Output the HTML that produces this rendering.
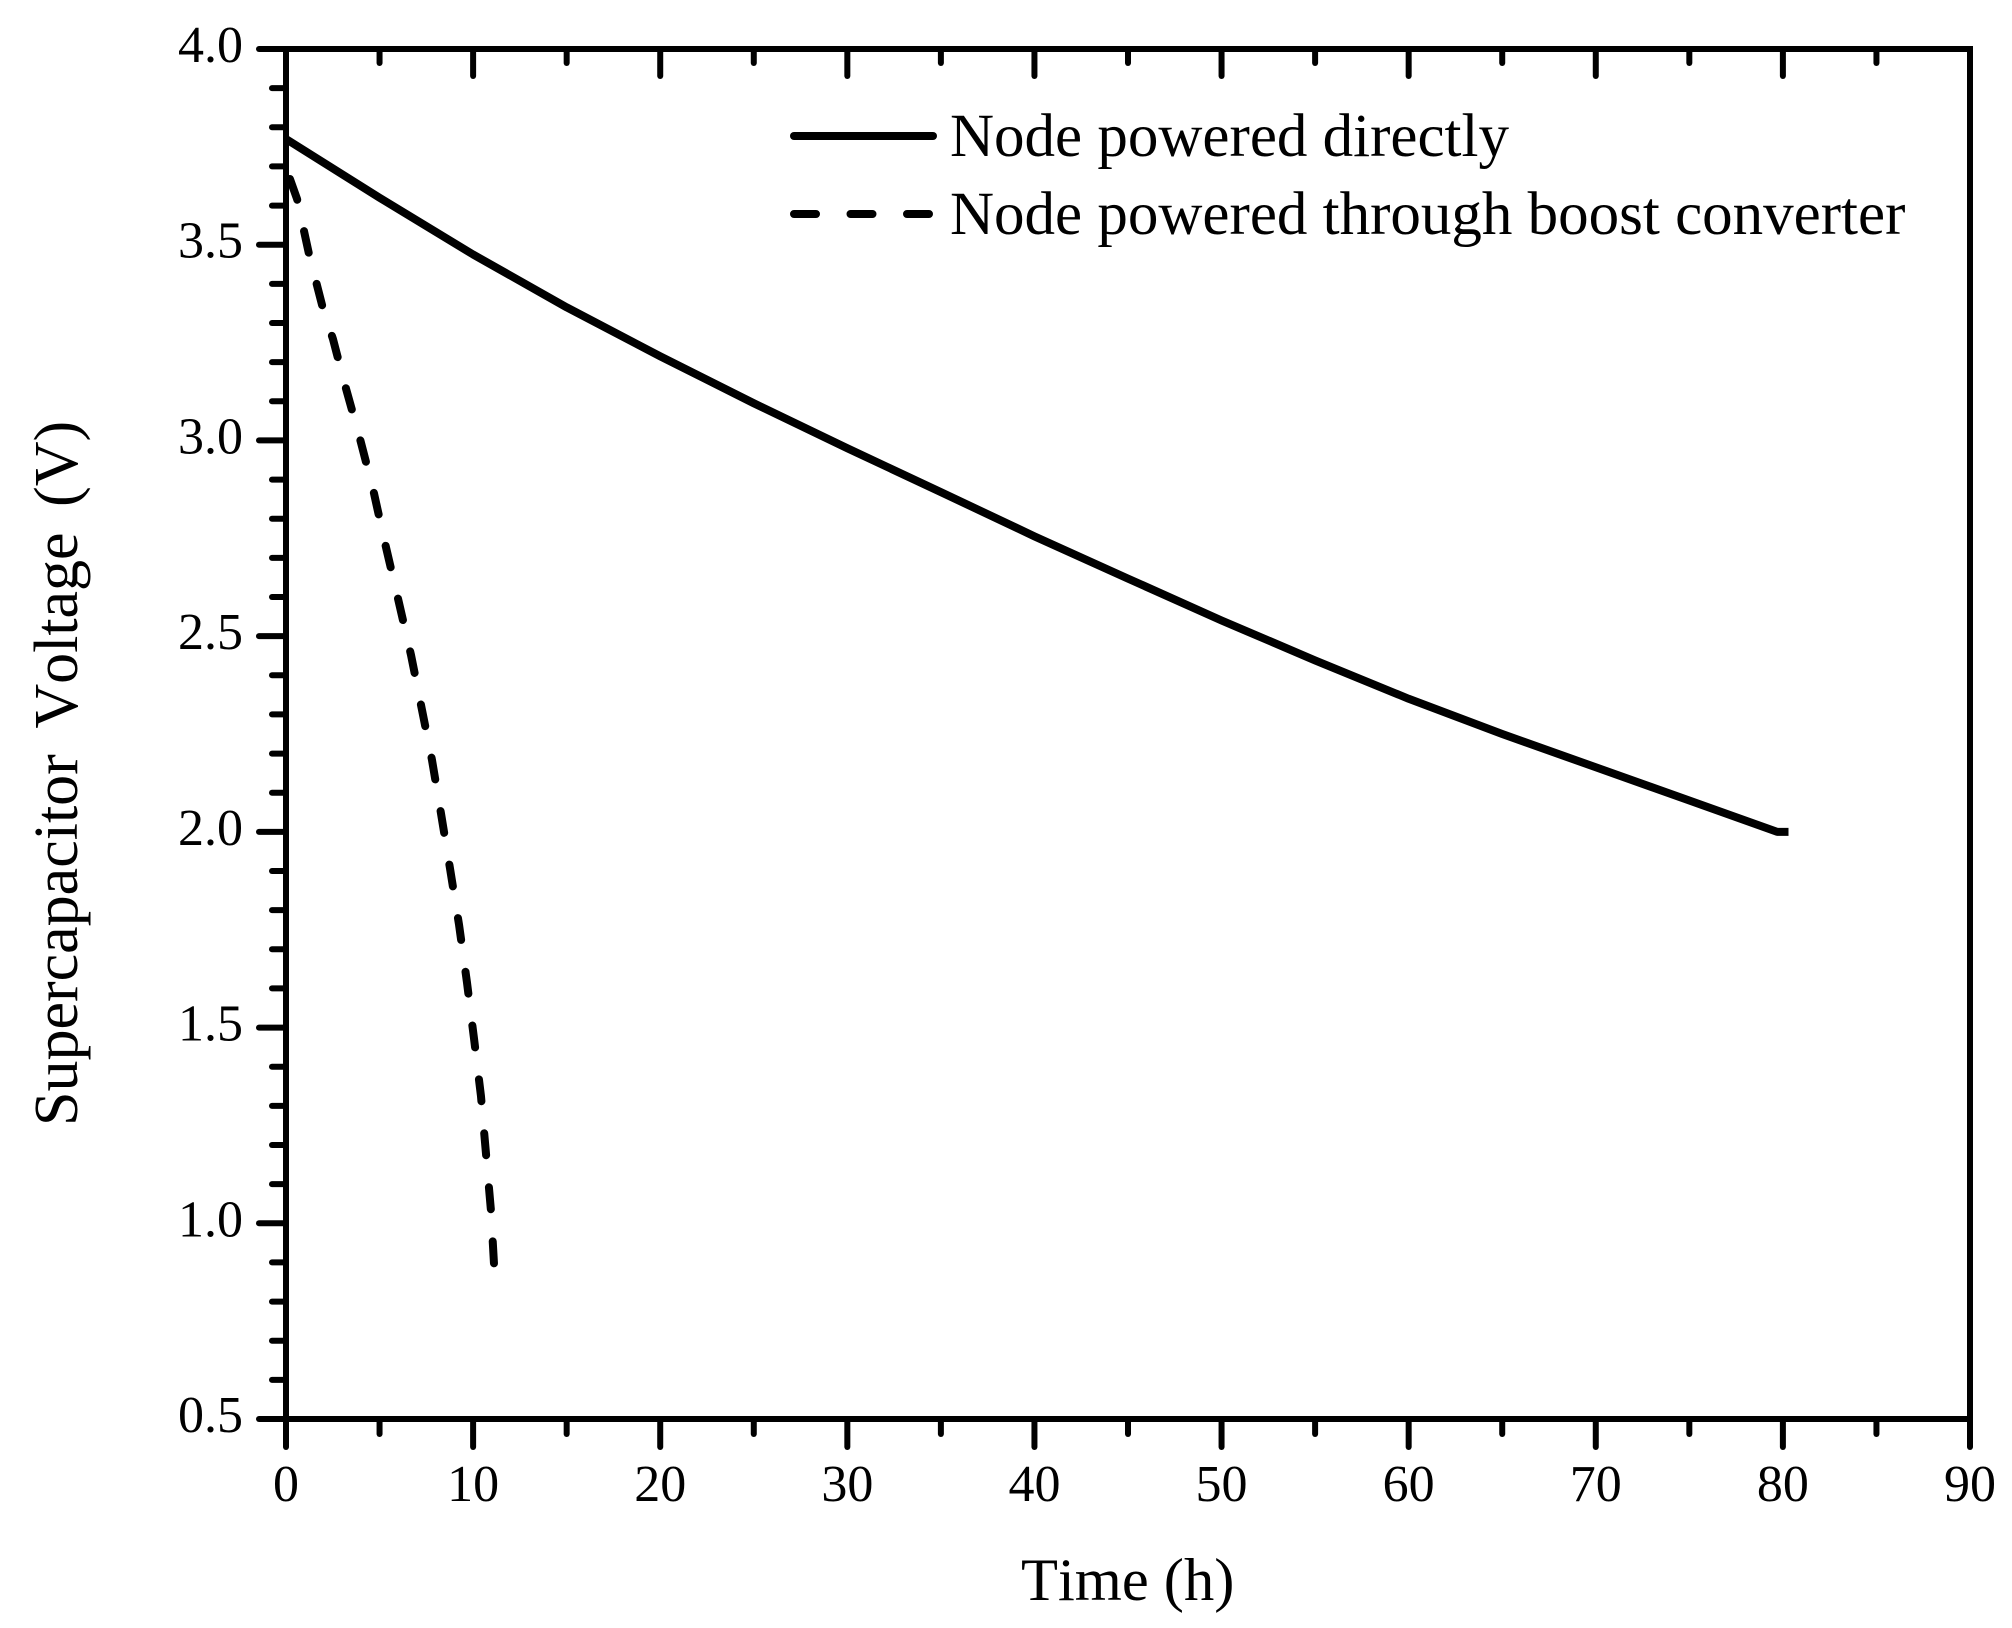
<!DOCTYPE html>
<html lang="en">
<head>
<meta charset="utf-8">
<title>Supercapacitor Voltage vs Time</title>
<style>
  html, body { margin: 0; padding: 0; background: #fff; }
  svg { display: block; }
  text { font-family: "Liberation Serif", serif; fill: #000; font-kerning: none; }
</style>
</head>
<body>
<svg id="chart" xmlns="http://www.w3.org/2000/svg" width="2012" height="1628" viewBox="0 0 2012 1628">
  <rect x="0" y="0" width="2012" height="1628" fill="#fff"/>
  <g id="axes"></g>
  <g id="series"></g>
  <text x="1021" y="1600" font-size="60.5">Time (h)</text>
  <text transform="translate(77,1126) rotate(-90)" font-size="62" word-spacing="10">Supercapacitor Voltage (V)</text>
  <g>
    <line x1="794" y1="136" x2="933" y2="136" stroke="#000" stroke-width="8" stroke-linecap="round"/>
    <text x="950" y="156" font-size="61">Node powered directly</text>
    <line x1="794" y1="214" x2="932" y2="214" stroke="#000" stroke-width="8" stroke-linecap="round" stroke-dasharray="22 34.5"/>
    <text x="950" y="234" font-size="61">Node powered through boost converter</text>
  </g>
</svg>
<script>
var xTickValues = [0, 10, 20, 30, 40, 50, 60, 70, 80, 90];
var xTickLabels = ['0', '10', '20', '30', '40', '50', '60', '70', '80', '90'];
var xMinorValues = [5, 15, 25, 35, 45, 55, 65, 75, 85];
var yTickValues = [0.5, 1.0, 1.5, 2.0, 2.5, 3.0, 3.5, 4.0];
var yTickLabels = ['0.5', '1.0', '1.5', '2.0', '2.5', '3.0', '3.5', '4.0'];
var yMinorValues = [0.6, 0.7, 0.8, 0.9, 1.1, 1.2, 1.3, 1.4, 1.6, 1.7, 1.8, 1.9, 2.1, 2.2, 2.3, 2.4, 2.6, 2.7, 2.8, 2.9, 3.1, 3.2, 3.3, 3.4, 3.6, 3.7, 3.8, 3.9];

var directTime = [0, 5, 10, 15, 20, 25, 30, 35, 40, 45, 50, 55, 60, 65, 70, 75, 79.7, 80.3];
var directVoltage = [3.77, 3.62, 3.475, 3.34, 3.215, 3.095, 2.98, 2.868, 2.755, 2.647, 2.54, 2.438, 2.34, 2.25, 2.165, 2.08, 2.0, 2.0];

var boostTime = [0.21, 0.59, 1.23, 1.98, 2.51, 3.15, 3.90, 4.65, 5.29, 5.99, 6.68, 7.27, 7.80, 8.28, 8.76, 9.25, 9.67, 10.05, 10.42, 10.69, 10.96, 11.12];
var boostVoltage = [3.668, 3.617, 3.476, 3.336, 3.259, 3.142, 3.014, 2.876, 2.738, 2.595, 2.452, 2.311, 2.184, 2.048, 1.908, 1.762, 1.616, 1.471, 1.325, 1.177, 1.029, 0.893];

var SVG_NS = 'http://www.w3.org/2000/svg';
var plotLeft = 286, plotRight = 1970, plotTop = 49, plotBottom = 1419;
var xMin = 0, xMax = 90, yMin = 0.5, yMax = 4.0;

function xScale(t) { return plotLeft + (t - xMin) / (xMax - xMin) * (plotRight - plotLeft); }
function yScale(v) { return plotBottom - (v - yMin) / (yMax - yMin) * (plotBottom - plotTop); }

var axes = document.getElementById('axes');
var seriesGroup = document.getElementById('series');

function makeLine(x1, y1, x2, y2, cap) {
  var el = document.createElementNS(SVG_NS, 'line');
  el.setAttribute('x1', x1);
  el.setAttribute('y1', y1);
  el.setAttribute('x2', x2);
  el.setAttribute('y2', y2);
  el.setAttribute('stroke', '#000');
  el.setAttribute('stroke-width', 6);
  el.setAttribute('stroke-linecap', cap);
  axes.appendChild(el);
  return el;
}

function makeLabel(x, y, anchor, str) {
  var el = document.createElementNS(SVG_NS, 'text');
  el.setAttribute('x', x);
  el.setAttribute('y', y);
  el.setAttribute('text-anchor', anchor);
  el.setAttribute('font-size', 52);
  el.textContent = str;
  axes.appendChild(el);
  return el;
}

xTickValues.forEach(function (t, i) {
  var x = xScale(t);
  var bottomTick = makeLine(x, plotBottom, x, 1447, 'round');
  
  
  var topTick = makeLine(x, plotTop, x, 76, 'round');
  
  
  var label = makeLabel(x, 1501, 'middle', xTickLabels[i]);
  
  
});

xMinorValues.forEach(function (t) {
  var x = xScale(t);
  var bottomTick = makeLine(x, plotBottom, x, 1434, 'round');
  
  
  var topTick = makeLine(x, plotTop, x, 63, 'round');
  
  
});

yTickValues.forEach(function (v, i) {
  var y = yScale(v);
  var tick = makeLine(259, y, plotLeft, y, 'round');
  
  
  var label = makeLabel(243, y + 13, 'end', yTickLabels[i]);
  
  
});

yMinorValues.forEach(function (v) {
  var y = yScale(v);
  var tick = makeLine(272, y, plotLeft, y, 'round');
  
  
});

var frameTop = makeLine(plotLeft, plotTop, plotRight, plotTop, 'square');


var frameRight = makeLine(plotRight, plotTop, plotRight, plotBottom, 'square');


var frameBottom = makeLine(plotLeft, plotBottom, plotRight, plotBottom, 'square');


var frameLeft = makeLine(plotLeft, plotTop, plotLeft, plotBottom, 'square');



function pointsFor(times, volts) {
  return times.map(function (t, i) {
    return xScale(t).toFixed(2) + ',' + yScale(volts[i]).toFixed(2);
  }).join(' ');
}

var directLine = document.createElementNS(SVG_NS, 'polyline');


directLine.setAttribute('points', pointsFor(directTime, directVoltage));
directLine.setAttribute('fill', 'none');
directLine.setAttribute('stroke', '#000');
directLine.setAttribute('stroke-width', 8);
directLine.setAttribute('stroke-linejoin', 'round');
directLine.setAttribute('stroke-linecap', 'butt');
seriesGroup.appendChild(directLine);

var boostLine = document.createElementNS(SVG_NS, 'polyline');


boostLine.setAttribute('points', pointsFor(boostTime, boostVoltage));
boostLine.setAttribute('fill', 'none');
boostLine.setAttribute('stroke', '#000');
boostLine.setAttribute('stroke-width', 8);
boostLine.setAttribute('stroke-linejoin', 'round');
boostLine.setAttribute('stroke-linecap', 'round');
boostLine.setAttribute('stroke-dasharray', '22 32.2');
seriesGroup.appendChild(boostLine);
</script>
</body>
</html>
